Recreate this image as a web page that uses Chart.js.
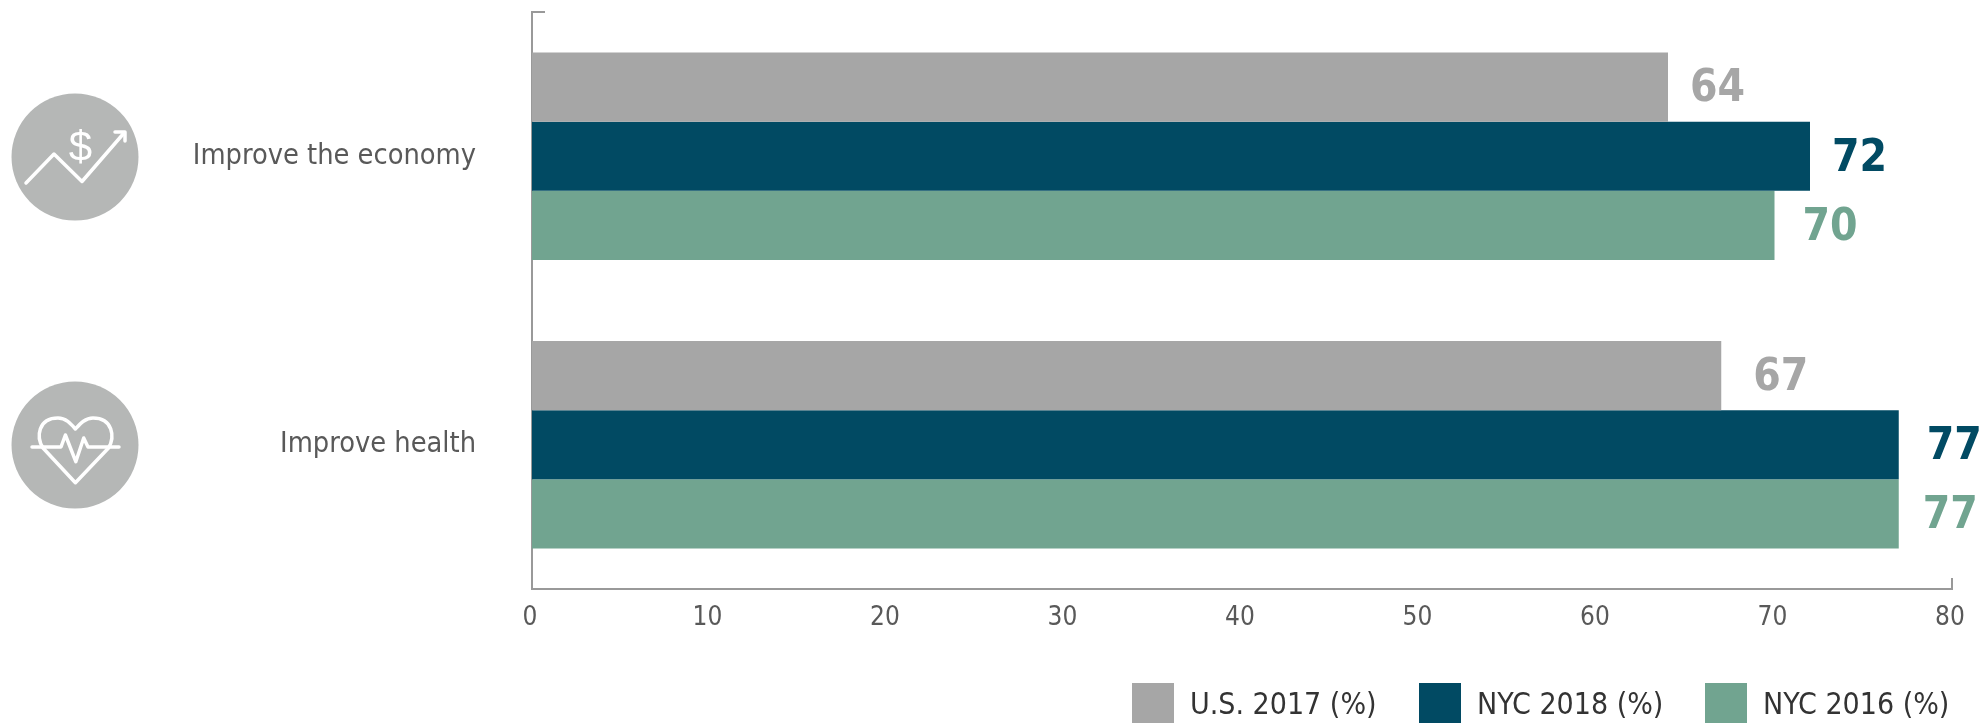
<!DOCTYPE html>
<html>
<head>
<meta charset="utf-8">
<script src="https://cdn.jsdelivr.net/npm/chart.js@4"></script>
<style>
html, body { margin: 0; padding: 0; background: #fff; }
#wrap { position: relative; width: 1983px; height: 724px; overflow: hidden; }
#icons { position: absolute; left: 0; top: 0; }
.legend-item { position: absolute; top: 683px; height: 40px; display: flex; align-items: center; white-space: nowrap;
    font: 30px "DejaVu Sans Condensed", "DejaVu Sans", sans-serif; color: #333; }
.legend-box { width: 42px; height: 40px; margin-right: 16px; }
</style>
</head>
<body>
<div id="wrap">
<canvas id="impactChart" width="1983" height="724"></canvas>
<svg id="icons" width="150" height="724" fill="none" stroke="#fff" stroke-width="3.5" stroke-linecap="round" stroke-linejoin="round">
  <circle cx="75" cy="157" r="63.5" fill="#b5b7b6" stroke="none"/>
  <polyline points="26,183 54,154 82,181.5 124,133"/>
  <polyline points="115,132 125,132 125,141"/>
  <text x="80.5" y="161" font-family="Liberation Sans" font-size="42" text-anchor="middle" fill="#fff" stroke="none">$</text>
  <circle cx="75" cy="445" r="63.5" fill="#b5b7b6" stroke="none"/>
  <path d="M43 448 C36 437 38 418 58 418 C66 418 71 424 75.4 429 C80 424 85 418 93 418 C113 418 115 437 108.5 448 L75.4 482.7 Z"/>
  <polyline points="32,447 61,447 65.4,435 75.8,461.7 83.7,438 88,447 119,447"/>
</svg>
</div>
<script>
var categories = ['Improve the economy', 'Improve health'];
var seriesNames = ['U.S. 2017 (%)', 'NYC 2018 (%)', 'NYC 2016 (%)'];
var seriesColors = ['#a6a6a6', '#014a63', '#71a490'];
var us2017 = [64, 67];
var nyc2018 = [72, 77];
var nyc2016 = [70, 77];
var xTicks = [0, 10, 20, 30, 40, 50, 60, 70, 80];

var FONT = '"DejaVu Sans Condensed", "DejaVu Sans", sans-serif';

// the numbers were placed by hand in the original, so the gap differs per bar
var labelGaps = [[22, 32], [22, 28], [28, 24]];
var legendLefts = [1132, 1419, 1705];

// numbers at the end of the bars and the little end ticks of the axes
var barLabels = {
    id: 'barLabels',
    afterDatasetsDraw: function (chart) {
        var ctx = chart.ctx;
        var area = chart.chartArea;
        ctx.save();
        ctx.font = 'bold 44px ' + FONT;
        ctx.textAlign = 'left';
        ctx.textBaseline = 'middle';
        chart.data.datasets.forEach(function (ds, i) {
            chart.getDatasetMeta(i).data.forEach(function (bar, j) {
                ctx.fillStyle = seriesColors[i];
                ctx.fillText(ds.data[j], bar.x + labelGaps[i][j], bar.y + 3);
            });
        });
        ctx.strokeStyle = '#999999';
        ctx.lineWidth = 2;
        ctx.beginPath();
        ctx.moveTo(area.left, area.top);
        ctx.lineTo(area.left + 13, area.top);
        ctx.moveTo(area.right, area.bottom);
        ctx.lineTo(area.right, area.bottom - 11);
        ctx.stroke();
        ctx.restore();
    }
};

var ctx = document.getElementById('impactChart').getContext('2d');
var myChart = new Chart(ctx, {
    type: 'bar',
    plugins: [barLabels],
    data: {
        labels: categories,
        datasets: [
            { label: seriesNames[0], data: us2017, backgroundColor: seriesColors[0] },
            { label: seriesNames[1], data: nyc2018, backgroundColor: seriesColors[1] },
            { label: seriesNames[2], data: nyc2016, backgroundColor: seriesColors[2] }
        ]
    },
    options: {
        indexAxis: 'y',
        responsive: false,
        animation: false,
        barPercentage: 1,
        categoryPercentage: 0.72,
        layout: {
            padding: { top: 12, right: 31, bottom: 0, left: 0 }
        },
        plugins: {
            tooltip: { enabled: false },
            legend: { display: false }
        },
        scales: {
            x: {
                min: 0,
                max: 80,
                afterBuildTicks: function (axis) {
                    axis.ticks = xTicks.map(function (v) { return { value: v }; });
                },
                afterFit: function (axis) { axis.height = 135; },
                grid: { display: false },
                border: { color: '#999999', width: 2 },
                ticks: {
                    color: '#595959',
                    maxRotation: 0,
                    padding: 6,
                    labelOffset: -2,
                    font: { family: FONT, size: 26 }
                }
            },
            y: {
                afterFit: function (axis) {
                    axis.width = 532;
                    axis.paddingTop = 0;
                    axis.paddingBottom = 0;
                },
                // tickLength moves the labels away from the axis, ticks.padding would also push the plot down
                grid: { display: false, tickLength: 56 },
                border: { color: '#999999', width: 2 },
                ticks: {
                    color: '#595959',
                    padding: 0,
                    font: { family: FONT, size: 28.7 }
                }
            }
        }
    }
});

// legend built from the datasets, the built in one can't space its boxes like this
myChart.data.datasets.forEach(function (ds, i) {
    var item = document.createElement('div');
    item.className = 'legend-item';
    item.style.left = legendLefts[i] + 'px';
    var box = document.createElement('span');
    box.className = 'legend-box';
    box.style.background = ds.backgroundColor;
    item.appendChild(box);
    item.appendChild(document.createTextNode(ds.label));
    document.getElementById('wrap').appendChild(item);
});
</script>
</body>
</html>
